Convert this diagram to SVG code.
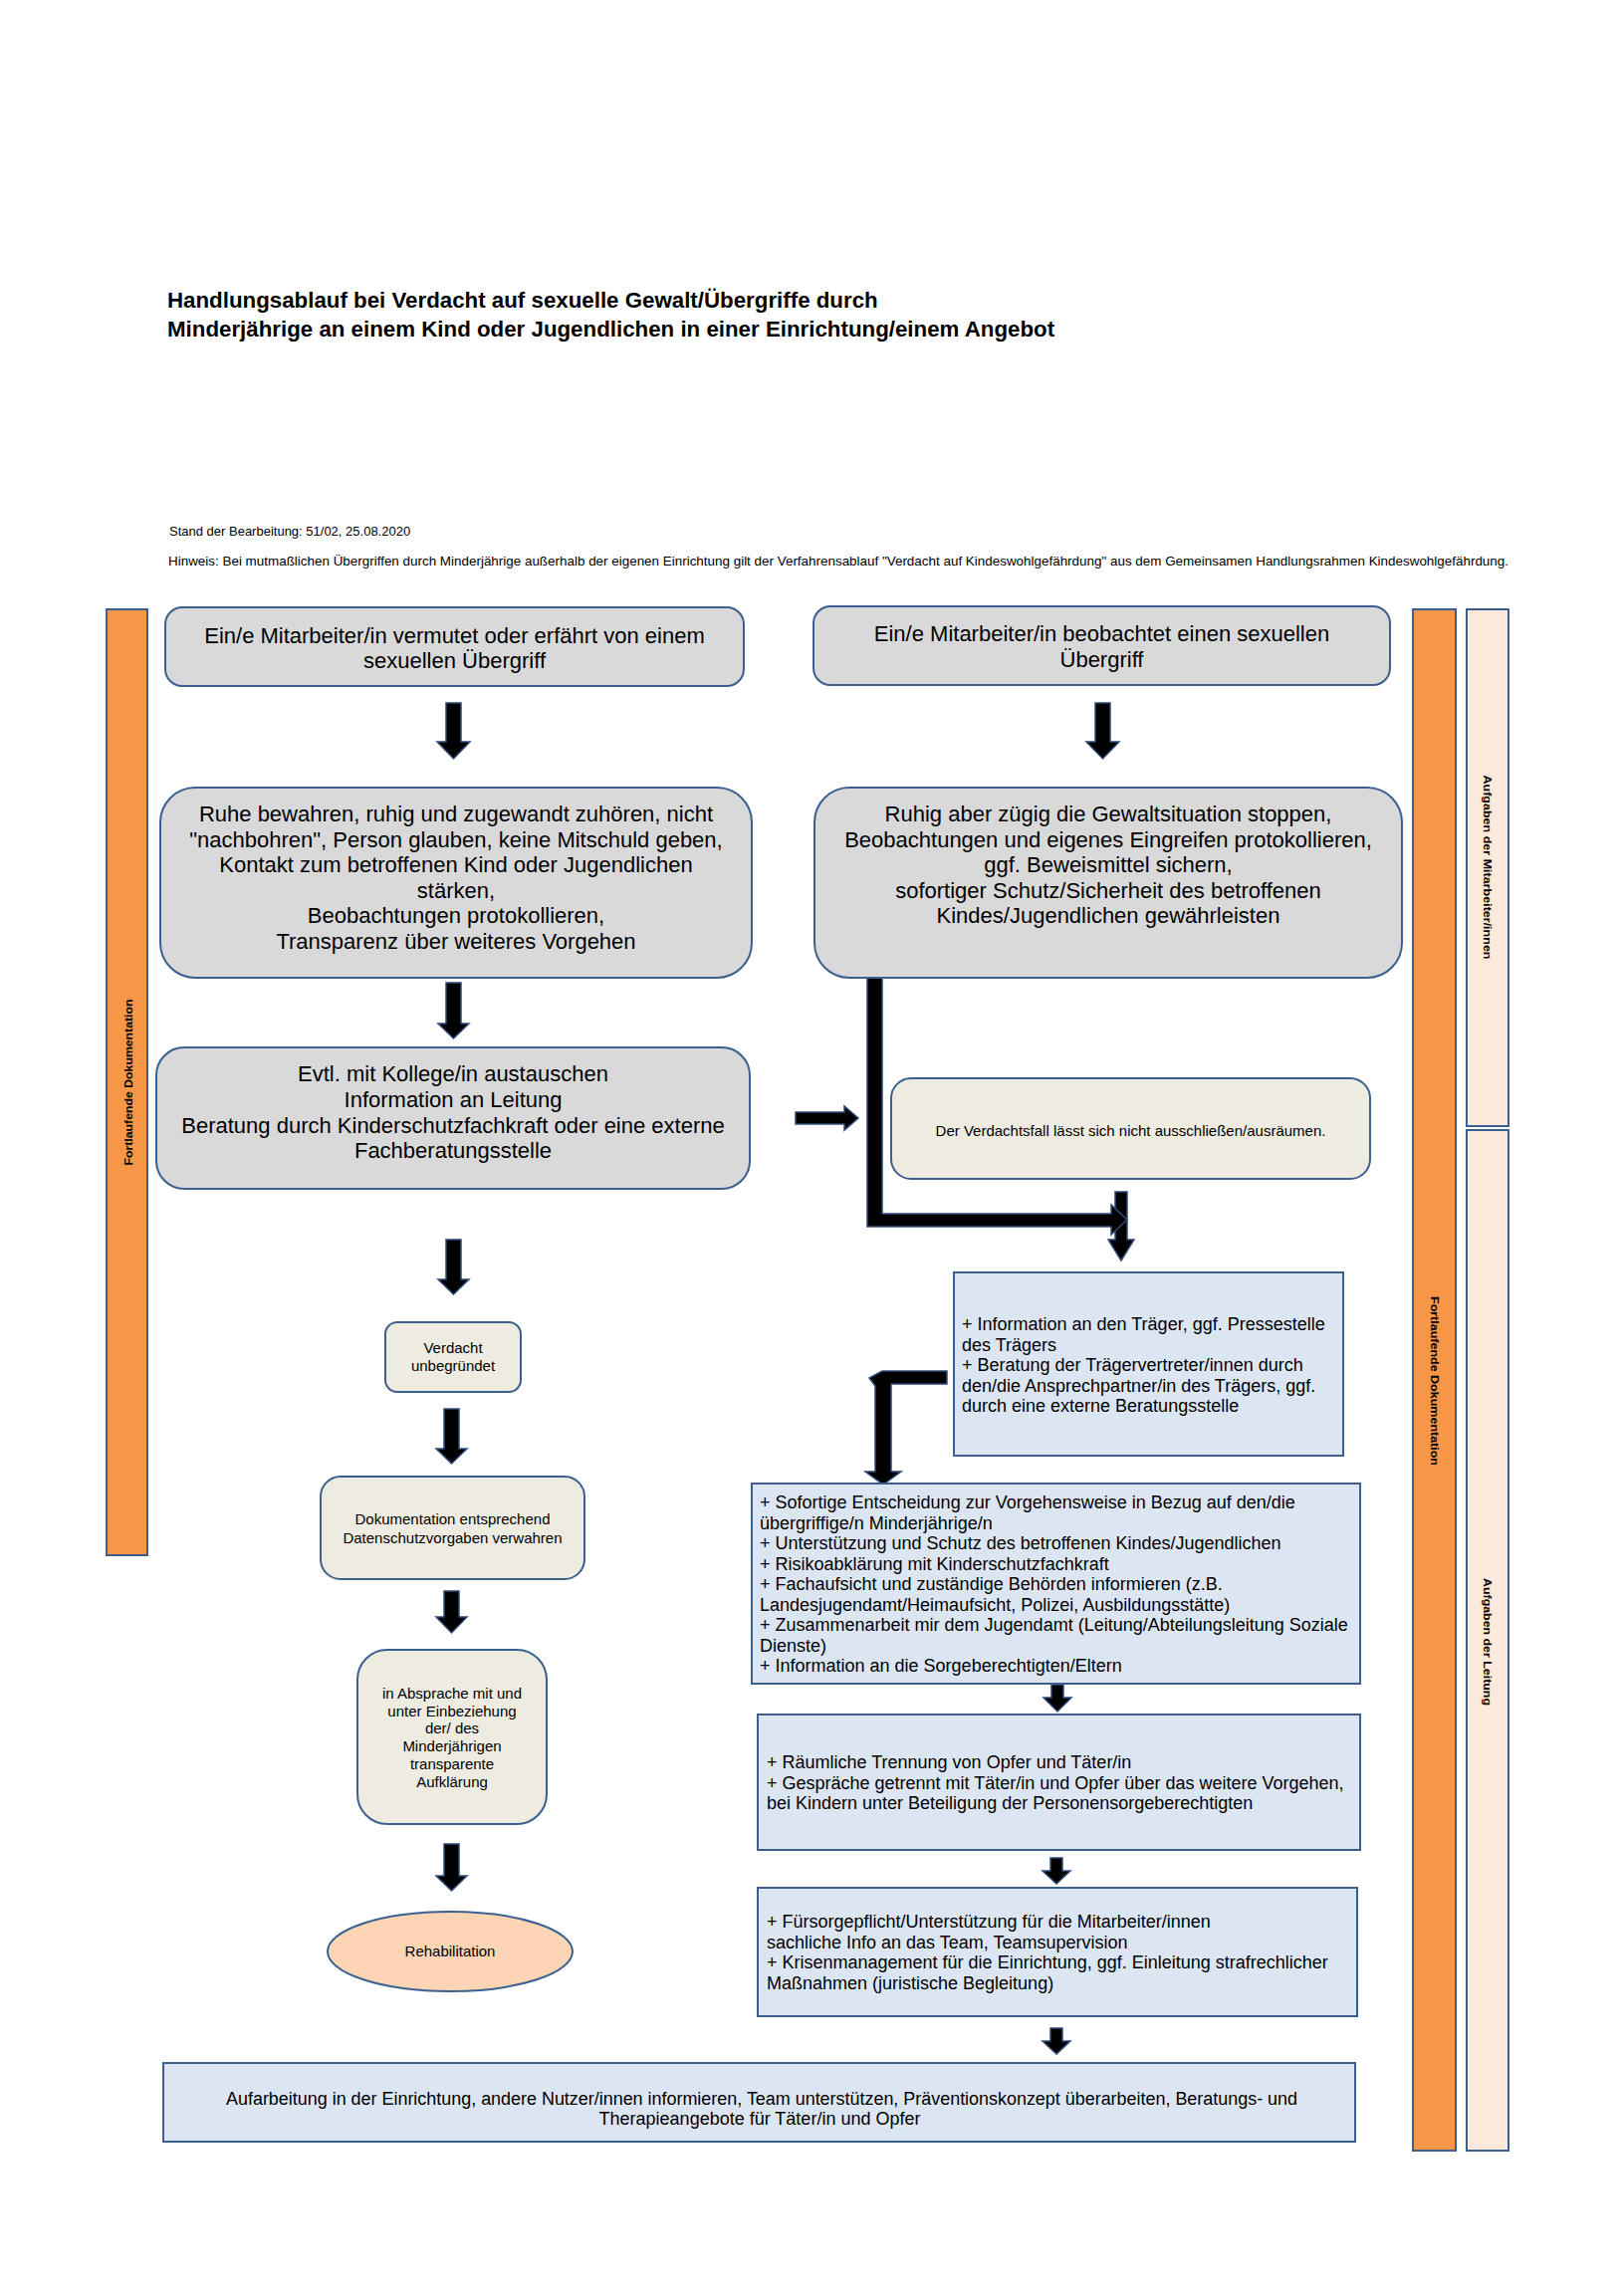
<svg xmlns="http://www.w3.org/2000/svg" width="1631" height="2300" viewBox="0 0 1631 2300">
<style>
text{font-family:"Liberation Sans",Arial,sans-serif;fill:#000}
.t{font-size:22.3px;font-weight:bold}
.meta{font-size:13px}
.big{font-size:22px;text-anchor:middle}
.sm{font-size:15px;text-anchor:middle}
.bl{font-size:18px}
.lab{font-size:11.5px;font-weight:bold;text-anchor:middle}
.gray{fill:#D9D9D9;stroke:#3B6090;stroke-width:2}
.beige{fill:#EEECE1;stroke:#3B6090;stroke-width:2}
.blue{fill:#DCE6F2;stroke:#3B6090;stroke-width:2}
.orange{fill:#F79646;stroke:#3B6090;stroke-width:2}
.peach{fill:#FDE9D9;stroke:#3B6090;stroke-width:2}
.ell{fill:#FCD5B5;stroke:#3B6090;stroke-width:2}
.arr{fill:#000;stroke:#2E4A78;stroke-width:1.5;stroke-linejoin:miter}
</style>
<rect width="1631" height="2300" fill="#fff"/>

<g id="header">
<text class="t" x="168" y="309">Handlungsablauf bei Verdacht auf sexuelle Gewalt/Übergriffe durch</text>
<text class="t" x="168" y="338">Minderjährige an einem Kind oder Jugendlichen in einer Einrichtung/einem Angebot</text>
<text class="meta" x="170" y="538">Stand der Bearbeitung: 51/02, 25.08.2020</text>
<text class="meta" x="169" y="568" textLength="1346" lengthAdjust="spacingAndGlyphs">Hinweis: Bei mutmaßlichen Übergriffen durch Minderjährige außerhalb der eigenen Einrichtung gilt der Verfahrensablauf "Verdacht auf Kindeswohlgefährdung" aus dem Gemeinsamen Handlungsrahmen Kindeswohlgefährdung.</text>
</g>

<g id="bar-left">
<rect class="orange" x="107" y="612" width="41" height="950"/>
<text class="lab" transform="translate(128.5,1087) rotate(-90)" dy="4" textLength="167" lengthAdjust="spacingAndGlyphs">Fortlaufende Dokumentation</text>
</g>
<g id="bar-right">
<rect class="orange" x="1419" y="612" width="43" height="1548"/>
<text class="lab" transform="translate(1440.5,1387) rotate(90)" dy="4" textLength="170" lengthAdjust="spacingAndGlyphs">Fortlaufende Dokumentation</text>
</g>
<g id="bar-mitarbeiter">
<rect class="peach" x="1473" y="612" width="42" height="519"/>
<text class="lab" transform="translate(1494,871) rotate(90)" dy="4" textLength="185" lengthAdjust="spacingAndGlyphs">Aufgaben der Mitarbeiter/innen</text>
</g>
<g id="bar-leitung">
<rect class="peach" x="1473" y="1135" width="42" height="1025"/>
<text class="lab" transform="translate(1494,1649) rotate(90)" dy="4" textLength="128" lengthAdjust="spacingAndGlyphs">Aufgaben der Leitung</text>
</g>

<g id="connectors">
<polygon class="arr" points="448,706 463,706 463,745 472,745 455.5,762 439,745 448,745"/>
<polygon class="arr" points="1100,706 1115,706 1115,745 1124,745 1107.5,762 1091,745 1100,745"/>
<polygon class="arr" points="448,987 463,987 463,1028 471,1028 455.5,1043 440,1028 448,1028"/>
<polygon class="arr" points="799,1117 848,1117 848,1111 862,1123 848,1135 848,1129 799,1129"/>
<polygon class="arr" points="1120,1197 1132,1197 1132,1245 1139,1245 1126,1266 1113,1245 1120,1245"/>
<polygon class="arr" points="871,982 886,982 886,1219 1116,1219 1116,1210 1132,1225 1116,1240 1116,1232 871,1232"/>
<polygon class="arr" points="448,1245 463,1245 463,1285 471,1285 455.5,1300 440,1285 448,1285"/>
<polygon class="arr" points="446,1415 461,1415 461,1455 469,1455 453.5,1470 438,1455 446,1455"/>
<polygon class="arr" points="446,1598 461,1598 461,1624 469,1624 453.5,1640 438,1624 446,1624"/>
<polygon class="arr" points="446,1852 461,1852 461,1884 469,1884 453.5,1899 438,1884 446,1884"/>
<polygon class="arr" points="951,1377 886,1377 873,1384 879,1392 879,1478 869,1478 887,1491 905,1478 895,1478 895,1390 951,1390"/>
<polygon class="arr" points="1056,1692 1068,1692 1068,1705 1076,1705 1062,1719 1048,1705 1056,1705"/>
<polygon class="arr" points="1055,1866 1067,1866 1067,1879 1075,1879 1061,1892 1047,1879 1055,1879"/>
<polygon class="arr" points="1055,2037 1067,2037 1067,2050 1075,2050 1061,2063 1047,2050 1055,2050"/>
</g>

<g id="node-vermutet">
<rect class="gray" x="166" y="610" width="581" height="79" rx="17"/>
<text class="big" x="456.5" y="646">Ein/e Mitarbeiter/in vermutet oder erfährt von einem</text>
<text class="big" x="456.5" y="671">sexuellen Übergriff</text>
</g>
<g id="node-beobachtet">
<rect class="gray" x="817" y="609" width="579" height="79" rx="17"/>
<text class="big" x="1106.5" y="644">Ein/e Mitarbeiter/in beobachtet einen sexuellen</text>
<text class="big" x="1106.5" y="670">Übergriff</text>
</g>
<g id="node-ruhe">
<rect class="gray" x="161" y="791" width="594" height="191" rx="35"/>
<text class="big" x="458" y="825">Ruhe bewahren, ruhig und zugewandt zuhören, nicht</text>
<text class="big" x="458" y="850.5">"nachbohren", Person glauben, keine Mitschuld geben,</text>
<text class="big" x="458" y="876">Kontakt zum betroffenen Kind oder Jugendlichen</text>
<text class="big" x="458" y="901.5">stärken,</text>
<text class="big" x="458" y="927">Beobachtungen protokollieren,</text>
<text class="big" x="458" y="952.5">Transparenz über weiteres Vorgehen</text>
</g>
<g id="node-stoppen">
<rect class="gray" x="818" y="791" width="590" height="191" rx="35"/>
<text class="big" x="1113" y="825">Ruhig aber zügig die Gewaltsituation stoppen,</text>
<text class="big" x="1113" y="850.5">Beobachtungen und eigenes Eingreifen protokollieren,</text>
<text class="big" x="1113" y="876">ggf. Beweismittel sichern,</text>
<text class="big" x="1113" y="901.5">sofortiger Schutz/Sicherheit des betroffenen</text>
<text class="big" x="1113" y="927">Kindes/Jugendlichen gewährleisten</text>
</g>
<g id="node-austauschen">
<rect class="gray" x="157" y="1052" width="596" height="142" rx="28"/>
<text class="big" x="455" y="1086">Evtl. mit Kollege/in austauschen</text>
<text class="big" x="455" y="1112">Information an Leitung</text>
<text class="big" x="455" y="1138">Beratung durch Kinderschutzfachkraft oder eine externe</text>
<text class="big" x="455" y="1163">Fachberatungsstelle</text>
</g>
<g id="node-verdachtsfall">
<rect class="beige" x="895" y="1083" width="481" height="101" rx="20"/>
<text class="sm" x="1135.5" y="1141">Der Verdachtsfall lässt sich nicht ausschließen/ausräumen.</text>
</g>
<g id="node-unbegruendet">
<rect class="beige" x="387" y="1328" width="136" height="70" rx="12"/>
<text class="sm" x="455" y="1359">Verdacht</text>
<text class="sm" x="455" y="1377">unbegründet</text>
</g>
<g id="node-dokumentation">
<rect class="beige" x="322" y="1483" width="265" height="103" rx="20"/>
<text class="sm" x="454.5" y="1531">Dokumentation entsprechend</text>
<text class="sm" x="454.5" y="1550">Datenschutzvorgaben verwahren</text>
</g>
<g id="node-absprache">
<rect class="beige" x="359" y="1657" width="190" height="175" rx="30"/>
<text class="sm" x="454" y="1706">in Absprache mit und</text>
<text class="sm" x="454" y="1724">unter Einbeziehung</text>
<text class="sm" x="454" y="1741">der/ des</text>
<text class="sm" x="454" y="1759">Minderjährigen</text>
<text class="sm" x="454" y="1777">transparente</text>
<text class="sm" x="454" y="1795">Aufklärung</text>
</g>
<g id="node-rehabilitation">
<ellipse class="ell" cx="452" cy="1960" rx="123" ry="40"/>
<text class="sm" x="452" y="1965">Rehabilitation</text>
</g>
<g id="node-traeger">
<rect class="blue" x="958" y="1278" width="391" height="184"/>
<text class="bl" x="966" y="1336">+ Information an den Träger, ggf. Pressestelle</text>
<text class="bl" x="966" y="1356.5">des Trägers</text>
<text class="bl" x="966" y="1377">+ Beratung der Trägervertreter/innen durch</text>
<text class="bl" x="966" y="1397.5">den/die Ansprechpartner/in des Trägers, ggf.</text>
<text class="bl" x="966" y="1418">durch eine externe Beratungsstelle</text>
</g>
<g id="node-entscheidung">
<rect class="blue" x="755" y="1490" width="611" height="201"/>
<text class="bl" x="763" y="1515">+ Sofortige Entscheidung zur Vorgehensweise in Bezug auf den/die</text>
<text class="bl" x="763" y="1535.5">übergriffige/n Minderjährige/n</text>
<text class="bl" x="763" y="1556">+ Unterstützung und Schutz des betroffenen Kindes/Jugendlichen</text>
<text class="bl" x="763" y="1576.5">+ Risikoabklärung mit Kinderschutzfachkraft</text>
<text class="bl" x="763" y="1597">+ Fachaufsicht und zuständige Behörden informieren (z.B.</text>
<text class="bl" x="763" y="1617.5">Landesjugendamt/Heimaufsicht, Polizei, Ausbildungsstätte)</text>
<text class="bl" x="763" y="1638">+ Zusammenarbeit mir dem Jugendamt (Leitung/Abteilungsleitung Soziale</text>
<text class="bl" x="763" y="1658.5">Dienste)</text>
<text class="bl" x="763" y="1679">+ Information an die Sorgeberechtigten/Eltern</text>
</g>
<g id="node-trennung">
<rect class="blue" x="761" y="1722" width="605" height="136"/>
<text class="bl" x="770" y="1776">+ Räumliche Trennung von Opfer und Täter/in</text>
<text class="bl" x="770" y="1796.5">+ Gespräche getrennt mit Täter/in und Opfer über das weitere Vorgehen,</text>
<text class="bl" x="770" y="1817">bei Kindern unter Beteiligung der Personensorgeberechtigten</text>
</g>
<g id="node-fuersorge">
<rect class="blue" x="761" y="1896" width="602" height="129"/>
<text class="bl" x="770" y="1936">+ Fürsorgepflicht/Unterstützung für die Mitarbeiter/innen</text>
<text class="bl" x="770" y="1956.5">sachliche Info an das Team, Teamsupervision</text>
<text class="bl" x="770" y="1977">+ Krisenmanagement für die Einrichtung, ggf. Einleitung strafrechlicher</text>
<text class="bl" x="770" y="1997.5">Maßnahmen (juristische Begleitung)</text>
</g>
<g id="node-aufarbeitung">
<rect class="blue" x="164" y="2072" width="1197" height="79"/>
<text class="bl" x="765" y="2114" text-anchor="middle" font-size="17" textLength="1076" lengthAdjust="spacingAndGlyphs">Aufarbeitung in der Einrichtung, andere Nutzer/innen informieren, Team unterstützen, Präventionskonzept überarbeiten, Beratungs- und</text>
<text class="bl" x="763" y="2134" text-anchor="middle" font-size="17">Therapieangebote für Täter/in und Opfer</text>
</g>
</svg>
